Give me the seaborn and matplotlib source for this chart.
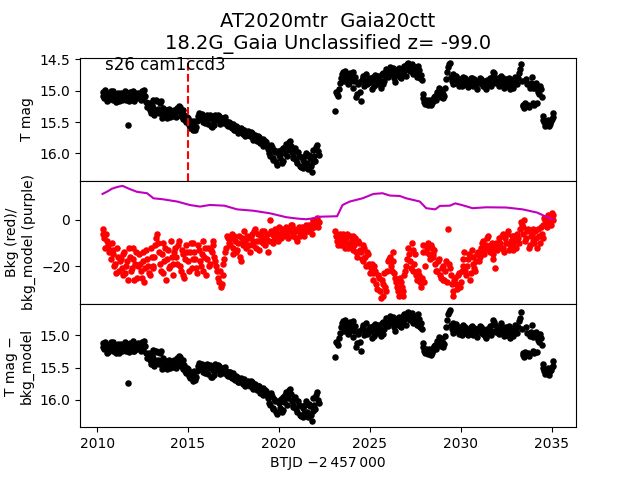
import matplotlib
matplotlib.use("Agg")
import matplotlib.pyplot as plt
import seaborn as sns

# ---------------- data ----------------
btjd_o1 = [2010.3, 2010.4, 2010.5, 2010.6, 2010.7, 2010.8, 2010.9, 2011.0, 2011.1, 2011.2,
           2011.3, 2011.4, 2011.5, 2011.6, 2011.7, 2011.8, 2011.9, 2012.0, 2012.1, 2012.2,
           2012.3, 2012.4, 2012.5, 2012.6, 2012.7, 2012.8, 2012.9, 2013.0, 2013.1, 2013.2,
           2013.3, 2013.4, 2013.5, 2013.6, 2013.7, 2013.8, 2013.9, 2014.0, 2014.1, 2014.2,
           2014.3, 2014.4, 2014.5, 2014.6, 2014.7, 2014.8, 2014.9, 2015.0, 2015.1, 2015.2,
           2015.3, 2015.4, 2015.5, 2015.6, 2015.7, 2015.8, 2015.9, 2016.0, 2016.1, 2016.2,
           2016.3, 2016.4, 2016.5, 2016.6, 2016.7, 2016.8, 2016.9, 2017.0, 2017.1, 2017.2,
           2017.3, 2017.4, 2017.5, 2017.6, 2017.7, 2017.8, 2017.9, 2018.0, 2018.1, 2018.2,
           2018.3, 2018.4, 2018.5, 2018.6, 2018.7, 2018.8, 2018.9, 2019.0, 2019.1, 2019.2,
           2019.3, 2019.4, 2019.5, 2019.6, 2019.7, 2019.8, 2019.9, 2020.0, 2020.1, 2020.2,
           2020.3, 2020.4, 2020.5, 2020.6, 2020.7, 2020.8, 2020.9, 2021.0, 2021.1, 2021.2,
           2021.3, 2021.4, 2021.5, 2021.6, 2021.7, 2021.8, 2021.9, 2022.0, 2022.1, 2022.2]
btjd_o1b = [2010.35, 2010.45, 2010.55, 2010.65, 2010.75, 2010.85, 2010.95, 2011.05, 2011.15, 2011.25,
            2011.35, 2011.45, 2011.55, 2011.65, 2011.75, 2011.85, 2011.95, 2012.05, 2012.15, 2012.25,
            2012.35, 2012.45, 2012.55, 2012.65, 2012.75, 2012.85, 2012.95, 2013.05, 2013.15, 2013.25,
            2013.35, 2013.45, 2013.55, 2013.65, 2013.75, 2013.85, 2013.95, 2014.05, 2014.15, 2014.25,
            2014.35, 2014.45, 2014.55, 2014.65, 2014.75, 2014.85, 2014.95, 2015.05, 2015.15, 2015.25,
            2015.35, 2015.45, 2015.55, 2015.65, 2015.75, 2015.85, 2015.95, 2016.05, 2016.15, 2016.25,
            2016.35, 2016.45, 2016.55, 2016.65, 2016.75, 2016.85, 2016.95, 2017.05, 2017.15, 2017.25,
            2017.35, 2017.45, 2017.55, 2017.65, 2017.75, 2017.85, 2017.95, 2018.05, 2018.15, 2018.25,
            2018.35, 2018.45, 2018.55, 2018.65, 2018.75, 2018.85, 2018.95, 2019.05, 2019.15, 2019.25,
            2019.35, 2019.45, 2019.55, 2019.65, 2019.75, 2019.85, 2019.95, 2020.05, 2020.15, 2020.25,
            2020.35, 2020.45, 2020.55, 2020.65, 2020.75, 2020.85, 2020.95, 2021.05, 2021.15, 2021.25,
            2021.35, 2021.45, 2021.55, 2021.65, 2021.75, 2021.85, 2021.95, 2022.05, 2022.15]
btjd_o2 = [2023.1, 2023.2, 2023.3, 2023.4, 2023.5, 2023.6, 2023.7, 2023.8, 2023.9, 2024.0,
           2024.1, 2024.2, 2024.3, 2024.4, 2024.5, 2024.6, 2024.7, 2024.8, 2024.9, 2025.0,
           2025.1, 2025.2, 2025.3, 2025.4, 2025.5, 2025.6, 2025.7, 2025.8, 2025.9, 2026.0,
           2026.1, 2026.2, 2026.3, 2026.4, 2026.5, 2026.6, 2026.7, 2026.8, 2026.9, 2027.0,
           2027.1, 2027.2, 2027.3, 2027.4, 2027.5, 2027.6, 2027.7, 2027.8, 2027.9, 2028.0,
           2028.1, 2028.2, 2028.3, 2028.4, 2028.5, 2028.6, 2028.7, 2028.8, 2028.9, 2029.0,
           2029.1, 2029.2, 2029.3, 2029.4, 2029.5, 2029.6, 2029.7, 2029.8, 2029.9, 2030.0,
           2030.1, 2030.2, 2030.3, 2030.4, 2030.5, 2030.6, 2030.7, 2030.8, 2030.9, 2031.0,
           2031.1, 2031.2, 2031.3, 2031.4, 2031.5, 2031.6, 2031.7, 2031.8, 2031.9, 2032.0,
           2032.1, 2032.2, 2032.3, 2032.4, 2032.5, 2032.6, 2032.7, 2032.8, 2032.9, 2033.0,
           2033.1, 2033.2, 2033.3, 2033.4, 2033.5, 2033.6, 2033.7, 2033.8, 2033.9, 2034.0,
           2034.1, 2034.2, 2034.3, 2034.4, 2034.5, 2034.6, 2034.7, 2034.8, 2034.9, 2035.0, 2035.1]
btjd_o2b = [2023.15, 2023.25, 2023.35, 2023.45, 2023.55, 2023.65, 2023.75, 2023.85, 2023.95, 2024.05,
            2024.15, 2024.25, 2024.35, 2024.45, 2024.55, 2024.65, 2024.75, 2024.85, 2024.95, 2025.05,
            2025.15, 2025.25, 2025.35, 2025.45, 2025.55, 2025.65, 2025.75, 2025.85, 2025.95, 2026.05,
            2026.15, 2026.25, 2026.35, 2026.45, 2026.55, 2026.65, 2026.75, 2026.85, 2026.95, 2027.05,
            2027.15, 2027.25, 2027.35, 2027.45, 2027.55, 2027.65, 2027.75, 2027.85, 2027.95, 2028.05,
            2028.15, 2028.25, 2028.35, 2028.45, 2028.55, 2028.65, 2028.75, 2028.85, 2028.95, 2029.05,
            2029.15, 2029.25, 2029.35, 2029.45, 2029.55, 2029.65, 2029.75, 2029.85, 2029.95, 2030.05,
            2030.15, 2030.25, 2030.35, 2030.45, 2030.55, 2030.65, 2030.75, 2030.85, 2030.95, 2031.05,
            2031.15, 2031.25, 2031.35, 2031.45, 2031.55, 2031.65, 2031.75, 2031.85, 2031.95, 2032.05,
            2032.15, 2032.25, 2032.35, 2032.45, 2032.55, 2032.65, 2032.75, 2032.85, 2032.95, 2033.05,
            2033.15, 2033.25, 2033.35, 2033.45, 2033.55, 2033.65, 2033.75, 2033.85, 2033.95, 2034.05,
            2034.15, 2034.25, 2034.35, 2034.45, 2034.55, 2034.65, 2034.75, 2034.85, 2034.95, 2035.05]

tmag_o1 = [15.02, 15.12, 15.06, 15.15, 15.04, 15.10, 15.00, 15.13, 15.07, 15.16,
           15.03, 15.11, 15.05, 15.14, 15.55, 15.02, 15.09, 15.13, 15.04, 15.12,
           15.06, 15.15, 15.03, 14.99, 15.18, 15.24, 15.30, 15.22, 15.14, 15.32,
           15.17, 15.36, 15.16, 15.33, 15.40, 15.31, 15.37, 15.42, 15.34, 15.39,
           15.35, 15.28, 15.24, 15.40, 15.45, 15.38, 15.50, 15.44, 15.60, 15.52,
           15.55, 15.62, 15.48, 15.36, 15.42, 15.50, 15.40, 15.46, 15.53, 15.39,
           15.58, 15.44, 15.38, 15.47, 15.41, 15.50, 15.45, 15.52, 15.48, 15.56,
           15.51, 15.60, 15.55, 15.63, 15.58, 15.66, 15.60, 15.69, 15.62, 15.70,
           15.65, 15.73, 15.68, 15.76, 15.70, 15.80, 15.74, 15.83, 15.77, 15.86,
           15.82, 15.93, 16.05, 15.90, 16.10, 15.98, 16.18, 16.02, 15.95, 16.12,
           16.00, 15.85, 15.94, 15.80, 15.98, 16.08, 15.92, 16.15, 16.05, 16.22,
           16.10, 16.18, 16.00, 16.25, 16.08, 16.30, 15.95, 16.12, 15.86, 16.02]
tmag_o1b = [15.09, 14.99, 15.17, 15.08, 15.01, 15.14, 15.06, 15.18, 15.03, 15.10,
            15.15, 15.07, 15.01, 15.10, 15.17, 15.06, 15.00, 15.16, 15.09, 15.03,
            15.10, 15.01, 15.12, 15.08, 15.26, 15.19, 15.35, 15.27, 15.38, 15.15,
            15.29, 15.19, 15.43, 15.27, 15.35, 15.44, 15.29, 15.36, 15.40, 15.30,
            15.42, 15.33, 15.26, 15.36, 15.30, 15.47, 15.42, 15.55, 15.49, 15.63,
            15.48, 15.58, 15.41, 15.45, 15.37, 15.44, 15.52, 15.38, 15.43, 15.57,
            15.47, 15.55, 15.42, 15.39, 15.53, 15.44, 15.49, 15.42, 15.55, 15.50,
            15.58, 15.53, 15.62, 15.57, 15.67, 15.61, 15.65, 15.63, 15.72, 15.66,
            15.70, 15.66, 15.78, 15.72, 15.77, 15.73, 15.84, 15.79, 15.89, 15.81,
            15.88, 16.00, 15.86, 16.08, 15.94, 16.14, 15.97, 16.08, 16.15, 15.92,
            15.90, 16.04, 15.82, 15.88, 16.05, 15.96, 16.11, 15.98, 16.20, 16.06,
            16.24, 16.05, 16.15, 16.03, 16.20, 16.14, 16.05, 15.90, 15.97]
tmag_o2 = [15.33, 15.05, 14.98, 14.80, 14.70, 14.85, 14.76, 14.90, 14.72, 14.83,
           14.95, 14.78, 15.05, 14.86, 15.17, 14.80, 14.92, 14.74, 14.88, 14.79,
           14.97, 14.82, 14.75, 14.90, 14.80, 14.96, 14.71, 14.84, 14.66, 14.78,
           14.62, 14.74, 14.68, 14.86, 14.72, 14.64, 14.80, 14.70, 14.60, 14.76,
           14.56, 14.68, 14.58, 14.74, 14.62, 14.78, 14.67, 14.75, 15.12, 15.18,
           15.15, 15.22, 15.17, 15.20, 15.13, 15.08, 15.02, 14.96, 15.10, 15.05,
           15.08, 14.82, 14.62, 14.56, 14.85, 14.74, 14.88, 14.80, 14.92, 14.84,
           14.78, 14.90, 14.83, 14.94, 14.86, 14.79, 14.91, 14.85, 14.97, 14.88,
           14.82, 14.93, 14.86, 14.98, 14.90, 14.80, 14.87, 14.70, 14.79, 14.84,
           14.92, 14.76, 14.85, 14.95, 14.81, 14.88, 14.98, 14.86, 14.93, 14.78,
           14.90, 14.72, 14.58, 15.25, 15.28, 14.82, 15.22, 14.96, 14.78, 15.19,
           14.95, 15.20, 15.05, 14.98, 15.40, 15.50, 15.55, 15.47, 15.53, 15.45, 15.36]
tmag_o2b = [15.02, 15.09, 14.88, 14.74, 14.79, 14.68, 14.82, 14.87, 14.78, 14.70,
            14.85, 15.10, 14.90, 15.02, 14.83, 14.76, 14.85, 14.90, 14.82, 14.86,
            14.78, 14.93, 14.86, 14.77, 14.85, 14.74, 14.90, 14.76, 14.71, 14.69,
            14.70, 14.64, 14.80, 14.75, 14.66, 14.78, 14.73, 14.63, 14.67, 14.58,
            14.63, 14.60, 14.70, 14.66, 14.72, 14.60, 14.80, 14.83, 15.05, 15.21,
            15.19, 15.14, 15.23, 15.16, 15.10, 15.15, 15.04, 15.07, 14.99, 15.12,
            14.95, 14.70, 14.58, 14.78, 14.90, 14.82, 14.76, 14.87, 14.81, 14.93,
            14.87, 14.80, 14.88, 14.84, 14.80, 14.93, 14.82, 14.90, 14.84, 14.79,
            14.89, 14.84, 14.94, 14.83, 14.87, 14.93, 14.76, 14.72, 14.88, 14.80,
            14.84, 14.90, 14.80, 14.86, 14.93, 14.79, 14.87, 14.95, 14.82, 14.88,
            14.80, 14.66, 14.84, 15.22, 15.20, 14.90, 15.26, 14.88, 14.96, 15.22,
            14.88, 15.02, 14.92, 15.10, 15.46, 15.56, 15.51, 15.57, 15.49, 15.42]

bkg_o1 = [-4, -8, -6, -11, -13, -10, -15, -19, -12, -22,
          -17, -24, -14, -20, -26, -16, -21, -12, -19, -25,
          -15, -22, -18, -27, -13, -20, -24, -16, -21, -11,
          -6, -14, -22, -10, -18, -26, -13, -20, -16, -24,
          -12, -19, -9, -22, -15, -25, -11, -18, -14, -21,
          -10, -17, -23, -13, -20, -9, -16, -24, -12, -19,
          -14, -9, -18, -22, -27, -29, -24, -17, -12, -8,
          -11, -6, -15, -9, -13, -7, -18, -10, -5, -12,
          -8, -14, -6, -11, -4, -9, -13, -7, -10, -5,
          -8, -14, 0, -6, -9, -4, -7, -3, -8, -5,
          -6, -3, -8, -4, -2, -7, -5, -9, -3, -6,
          -4, -7, -2, -5, -3, -6, 0, -2, 1, -1]
bkg_o1b = [-6, -12, -9, -14, -17, -13, -20, -23, -16, -18,
           -21, -15, -23, -18, -12, -22, -17, -26, -14, -20,
           -19, -25, -14, -21, -17, -23, -12, -20, -16, -8,
           -10, -19, -15, -23, -12, -17, -21, -9, -19, -14,
           -16, -11, -20, -13, -24, -17, -14, -22, -10, -17,
           -14, -21, -11, -18, -15, -22, -12, -17, -20, -13,
           -11, -16, -20, -25, -22, -28, -19, -14, -7, -10,
           -8, -12, -7, -14, -10, -16, -8, -11, -9, -7,
           -11, -7, -9, -5, -12, -6, -9, -5, -8, -11,
           -6, -9, -5, -10, -7, -5, -9, -6, -4, -7,
           -4, -7, -5, -2, -6, -4, -8, -5, -7, -3,
           -6, -3, -5, -2, -4, -1, -3, 0, -3]
bkg_o2 = [-5, -9, -7, -11, -6, -10, -8, -12, -7, -9,
          -13, -8, -16, -10, -14, -18, -12, -20, -15, -23,
          -19, -26, -22, -30, -25, -34, -28, -23, -31, -18,
          -16, -22, -14, -25, -29, -33, -27, -31, -24, -20,
          -12, -18, -10, -22, -15, -26, -24, -29, -11, -27,
          -14, -10, -17, -12, -15, -19, -22, -17, -25, -20,
          -26, -18, -4, -21, -28, -33, -25, -30, -23, -27,
          -20, -14, -24, -17, -26, -13, -19, -22, -15, -18,
          -12, -9, -15, -11, -7, -14, -10, -17, -21, -13,
          -8, -12, -6, -14, -10, -5, -11, -7, -13, -9,
          -6, -10, -1, -3, 0, -8, -4, -11, -6, -9,
          -5, -12, -7, -3, -8, 1, -2, 2, -1, 3, 0]
bkg_o2b = [-7, -11, -6, -9, -8, -12, -6, -10, -11, -7,
           -11, -14, -9, -13, -17, -11, -16, -14, -19, -21,
           -23, -20, -28, -24, -31, -26, -33, -29, -22, -17,
           -20, -18, -23, -27, -31, -25, -29, -33, -22, -17,
           -15, -21, -13, -19, -24, -22, -27, -25, -14, -20,
           -12, -15, -11, -16, -13, -22, -18, -24, -21, -26,
           -22, -27, -19, -24, -31, -26, -28, -24, -29, -22,
           -17, -22, -20, -15, -23, -16, -21, -18, -14, -16,
           -10, -14, -12, -8, -13, -11, -15, -12, -10, -11,
           -10, -7, -12, -8, -6, -13, -9, -11, -7, -12,
           -8, -4, -2, -6, -9, -5, -12, -7, -4, -10,
           -8, -4, -10, -6, -2, 0, -3, 1, -2, 2]

model_btjd = [2010.3, 2010.6, 2010.8, 2011.1, 2011.4, 2011.8, 2012.2, 2012.75, 2013.1, 2013.6,
              2014.4, 2015.1, 2015.66, 2016.2, 2017.0, 2017.7, 2018.6, 2019.5, 2020.4, 2021.0,
              2021.5, 2021.9, 2022.2, 2023.2, 2023.5, 2023.9, 2024.6, 2025.2, 2025.7, 2026.1,
              2026.65, 2027.0, 2027.75, 2028.1, 2028.6, 2028.85, 2029.4, 2029.7, 2030.1, 2030.65,
              2031.4, 2032.5, 2033.4, 2034.2, 2034.7, 2035.05]
bkg_model = [11.3, 12.5, 13.5, 14.3, 14.8, 13.4, 12.2, 11.6, 9.4, 9.0,
             8.0, 6.5, 5.8, 6.5, 6.2, 4.6, 4.0, 2.9, 1.2, 0.6,
             0.3, 0.7, 1.4, 1.6, 6.5, 8.0, 9.4, 11.3, 11.6, 10.6,
             10.4, 9.4, 8.0, 5.1, 4.6, 6.1, 6.2, 7.2, 6.4, 5.1,
             5.5, 5.4, 4.6, 3.2, 1.4, 0.3]

tcorr_o1 = [15.12, 15.22, 15.16, 15.26, 15.14, 15.20, 15.10, 15.24, 15.17, 15.27,
            15.13, 15.22, 15.15, 15.25, 15.74, 15.12, 15.19, 15.24, 15.14, 15.22,
            15.16, 15.25, 15.13, 15.09, 15.28, 15.33, 15.39, 15.31, 15.23, 15.41,
            15.26, 15.45, 15.25, 15.42, 15.49, 15.40, 15.46, 15.51, 15.43, 15.48,
            15.44, 15.36, 15.32, 15.48, 15.53, 15.46, 15.58, 15.52, 15.66, 15.60,
            15.62, 15.69, 15.55, 15.43, 15.49, 15.57, 15.47, 15.53, 15.60, 15.46,
            15.65, 15.51, 15.45, 15.54, 15.48, 15.57, 15.52, 15.59, 15.55, 15.63,
            15.57, 15.66, 15.61, 15.69, 15.64, 15.72, 15.66, 15.75, 15.68, 15.76,
            15.70, 15.78, 15.73, 15.81, 15.75, 15.85, 15.79, 15.88, 15.82, 15.90,
            15.86, 15.97, 16.08, 15.94, 16.14, 16.02, 16.21, 16.05, 15.98, 16.15,
            16.03, 15.88, 15.97, 15.83, 16.01, 16.11, 15.95, 16.18, 16.08, 16.25,
            16.12, 16.20, 16.02, 16.27, 16.10, 16.33, 15.97, 16.14, 15.87, 16.04]
tcorr_o1b = [15.19, 15.10, 15.27, 15.18, 15.11, 15.24, 15.16, 15.28, 15.13, 15.20,
             15.24, 15.16, 15.10, 15.19, 15.26, 15.15, 15.09, 15.25, 15.18, 15.12,
             15.19, 15.10, 15.21, 15.17, 15.35, 15.28, 15.44, 15.36, 15.47, 15.24,
             15.38, 15.28, 15.52, 15.36, 15.44, 15.53, 15.38, 15.45, 15.49, 15.39,
             15.51, 15.41, 15.34, 15.44, 15.38, 15.55, 15.50, 15.63, 15.57, 15.71,
             15.55, 15.65, 15.48, 15.52, 15.44, 15.51, 15.59, 15.45, 15.50, 15.64,
             15.54, 15.62, 15.49, 15.46, 15.60, 15.51, 15.56, 15.49, 15.62, 15.57,
             15.64, 15.59, 15.68, 15.63, 15.73, 15.67, 15.71, 15.69, 15.78, 15.72,
             15.75, 15.71, 15.83, 15.77, 15.82, 15.78, 15.89, 15.84, 15.93, 15.85,
             15.92, 16.04, 15.90, 16.12, 15.98, 16.18, 16.01, 16.12, 16.19, 15.96,
             15.93, 16.07, 15.85, 15.91, 16.08, 15.99, 16.14, 16.01, 16.23, 16.09,
             16.27, 16.08, 16.18, 16.06, 16.23, 16.17, 16.08, 15.93, 16.00]
tcorr_o2 = [15.34, 15.12, 15.05, 14.88, 14.78, 14.93, 14.84, 14.98, 14.80, 14.91,
            15.03, 14.86, 15.12, 14.94, 15.24, 14.88, 15.00, 14.82, 14.96, 14.87,
            15.04, 14.90, 14.83, 14.97, 14.88, 15.02, 14.79, 14.91, 14.74, 14.86,
            14.70, 14.82, 14.76, 14.93, 14.80, 14.72, 14.87, 14.78, 14.68, 14.84,
            14.64, 14.76, 14.66, 14.81, 14.70, 14.85, 14.75, 14.82, 15.19, 15.25,
            15.22, 15.29, 15.24, 15.27, 15.20, 15.15, 15.09, 15.03, 15.17, 15.12,
            15.14, 14.88, 14.68, 14.62, 14.91, 14.81, 14.94, 14.87, 14.98, 14.91,
            14.85, 14.96, 14.90, 15.00, 14.92, 14.86, 14.97, 14.91, 15.03, 14.94,
            14.88, 14.99, 14.92, 15.04, 14.96, 14.86, 14.93, 14.76, 14.85, 14.90,
            14.98, 14.82, 14.91, 15.01, 14.87, 14.94, 15.04, 14.92, 14.99, 14.84,
            14.96, 14.78, 14.64, 15.31, 15.34, 14.88, 15.28, 15.02, 14.84, 15.24,
            15.01, 15.26, 15.10, 15.04, 15.45, 15.55, 15.58, 15.51, 15.56, 15.49, 15.40]
tcorr_o2b = [15.10, 15.16, 14.96, 14.82, 14.87, 14.76, 14.90, 14.95, 14.86, 14.78,
             14.93, 15.18, 14.98, 15.10, 14.91, 14.84, 14.93, 14.98, 14.90, 14.94,
             14.86, 15.01, 14.94, 14.85, 14.93, 14.82, 14.98, 14.84, 14.79, 14.77,
             14.78, 14.72, 14.88, 14.83, 14.74, 14.86, 14.81, 14.71, 14.75, 14.66,
             14.71, 14.68, 14.78, 14.74, 14.80, 14.68, 14.88, 14.91, 15.12, 15.28,
             15.26, 15.21, 15.30, 15.23, 15.17, 15.22, 15.11, 15.14, 15.06, 15.19,
             15.02, 14.77, 14.65, 14.85, 14.97, 14.89, 14.83, 14.94, 14.88, 15.00,
             14.94, 14.87, 14.95, 14.91, 14.87, 15.00, 14.89, 14.97, 14.91, 14.86,
             14.96, 14.91, 15.01, 14.90, 14.94, 15.00, 14.83, 14.79, 14.95, 14.87,
             14.91, 14.97, 14.87, 14.93, 15.00, 14.86, 14.94, 15.02, 14.89, 14.95,
             14.87, 14.73, 14.91, 15.28, 15.26, 14.97, 15.32, 14.95, 15.03, 15.27,
             14.95, 15.08, 14.99, 15.16, 15.51, 15.60, 15.56, 15.61, 15.54, 15.47]

t0_line = 2015.0
title_text = "AT2020mtr  Gaia20ctt\n18.2G_Gaia Unclassified z= -99.0"
sector_text = "s26 cam1ccd3"

btjd = btjd_o1 + btjd_o1b + btjd_o2 + btjd_o2b
tmag = tmag_o1 + tmag_o1b + tmag_o2 + tmag_o2b
bkg = bkg_o1 + bkg_o1b + bkg_o2 + bkg_o2b
tcorr = tcorr_o1 + tcorr_o1b + tcorr_o2 + tcorr_o2b

# ---------------- plot ----------------
fig, axes = plt.subplots(3, 1, sharex=True, figsize=(6.4, 4.8), dpi=100)
fig.subplots_adjust(hspace=0)
ax1, ax2, ax3 = axes

sns.scatterplot(x=btjd, y=tmag, color="k", s=22, linewidth=0, ax=ax1)
ax1.axvline(t0_line, color="r", linestyle="--", linewidth=1.5)
ax1.set_ylim(16.44, 14.47)
ax1.set_ylabel("T mag")
ax1.text(0.05, 0.9, sector_text, transform=ax1.transAxes, fontsize=12)
ax1.set_title(title_text, fontsize=14)

sns.scatterplot(x=btjd, y=bkg, color="r", s=22, linewidth=0, ax=ax2)
sns.lineplot(x=model_btjd, y=bkg_model, color="m", linewidth=1.5,
             sort=False, estimator=None, ax=ax2)
ax2.set_ylim(-36.5, 17)
ax2.set_ylabel("Bkg (red)/\nbkg_model (purple)")

sns.scatterplot(x=btjd, y=tcorr, color="k", s=22, linewidth=0, ax=ax3)
ax3.set_ylim(16.42, 14.52)
ax3.set_ylabel("T mag \u2212\nbkg_model")
ax3.set_xlabel("BTJD \u22122\u2009457\u2009000")

fig.savefig("out.png", dpi=100)
